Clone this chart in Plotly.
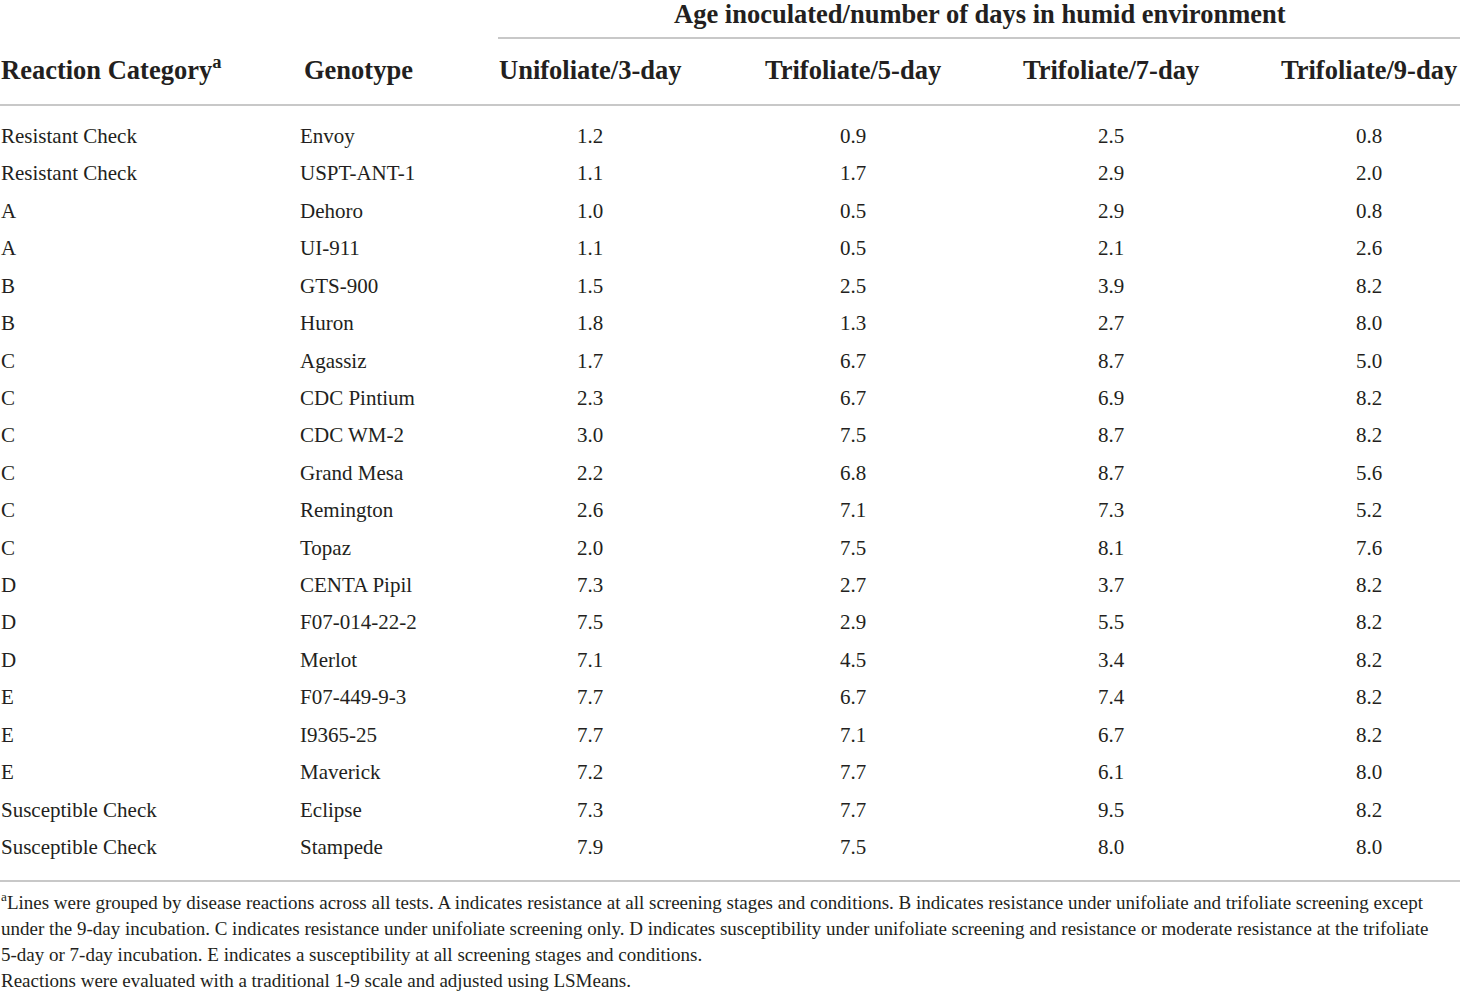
import plotly.graph_objects as go

# table data
categories = ["Resistant Check", "Resistant Check", "A", "A", "B", "B",
              "C", "C", "C", "C", "C", "C", "D", "D", "D", "E", "E", "E",
              "Susceptible Check", "Susceptible Check"]
genotypes = ["Envoy", "USPT-ANT-1", "Dehoro", "UI-911", "GTS-900", "Huron",
             "Agassiz", "CDC Pintium", "CDC WM-2", "Grand Mesa", "Remington",
             "Topaz", "CENTA Pipil", "F07-014-22-2", "Merlot", "F07-449-9-3",
             "I9365-25", "Maverick", "Eclipse", "Stampede"]
uni_3day = [1.2, 1.1, 1.0, 1.1, 1.5, 1.8, 1.7, 2.3, 3.0, 2.2, 2.6, 2.0,
            7.3, 7.5, 7.1, 7.7, 7.7, 7.2, 7.3, 7.9]
tri_5day = [0.9, 1.7, 0.5, 0.5, 2.5, 1.3, 6.7, 6.7, 7.5, 6.8, 7.1, 7.5,
            2.7, 2.9, 4.5, 6.7, 7.1, 7.7, 7.7, 7.5]
tri_7day = [2.5, 2.9, 2.9, 2.1, 3.9, 2.7, 8.7, 6.9, 8.7, 8.7, 7.3, 8.1,
            3.7, 5.5, 3.4, 7.4, 6.7, 6.1, 9.5, 8.0]
tri_9day = [0.8, 2.0, 0.8, 2.6, 8.2, 8.0, 5.0, 8.2, 8.2, 5.6, 5.2, 7.6,
            8.2, 8.2, 8.2, 8.2, 8.2, 8.0, 8.2, 8.0]

span_header = "Age inoculated/number of days in humid environment"
col_headers = ["Reaction Category<sup>a</sup>", "Genotype", "Unifoliate/3-day",
               "Trifoliate/5-day", "Trifoliate/7-day", "Trifoliate/9-day"]
footnotes = [
    "<sup>a</sup>Lines were grouped by disease reactions across all tests. A indicates resistance at all screening stages and conditions. B indicates resistance under unifoliate and trifoliate screening except",
    "under the 9-day incubation. C indicates resistance under unifoliate screening only. D indicates susceptibility under unifoliate screening and resistance or moderate resistance at the trifoliate",
    "5-day or 7-day incubation. E indicates a susceptibility at all screening stages and conditions.",
    "Reactions were evaluated with a traditional 1-9 scale and adjusted using LSMeans.",
]

FONT = "Liberation Serif"
INK = "#231f20"
RULE = "#c8c8c8"

W, H = 1460, 992
row_y0, row_h = 136, 37.42
num_cols_x = [590, 853, 1111, 1369]

fig = go.Figure()
ann = []


def txt(x, y, s, size=21, bold=False, anchor="left", shift=0):
    if bold:
        s = "<b>" + s + "</b>"
    ann.append(dict(x=x, y=y, text=s, showarrow=False, xanchor=anchor,
                    yanchor="middle", borderpad=0, yshift=shift,
                    font=dict(family=FONT, size=size, color=INK)))


# header
txt(980, 14, span_header, size=26.5, bold=True, anchor="center")
txt(0, 70, col_headers[0], size=26.5, bold=True, shift=2)
txt(358, 70, col_headers[1], size=26.5, bold=True, anchor="center")
for cx, h in zip(num_cols_x, col_headers[2:]):
    txt(cx, 70, h, size=26.5, bold=True, anchor="center")

# body
for i in range(len(genotypes)):
    y = row_y0 + i * row_h
    txt(0, y, categories[i])
    txt(299, y, genotypes[i])
    for cx, col in zip(num_cols_x, [uni_3day, tri_5day, tri_7day, tri_9day]):
        txt(cx, y, f"{col[i]:.1f}", anchor="center")

# footnotes
for k, f in enumerate(footnotes):
    txt(0, 903 + k * 25.7, f, size=19, shift=2 if k == 0 else 0)

shapes = [
    dict(type="line", x0=498, x1=W, y0=38, y1=38, line=dict(color=RULE, width=2)),
    dict(type="line", x0=0, x1=W, y0=105, y1=105, line=dict(color=RULE, width=2)),
    dict(type="line", x0=0, x1=W, y0=881, y1=881, line=dict(color=RULE, width=2)),
]

fig.update_layout(
    width=W, height=H,
    margin=dict(l=0, r=0, t=0, b=0),
    paper_bgcolor="white", plot_bgcolor="white",
    xaxis=dict(range=[0, W], visible=False, fixedrange=True),
    yaxis=dict(range=[H, 0], visible=False, fixedrange=True),
    annotations=ann, shapes=shapes,
    showlegend=False,
)

fig.write_html("out.html", config={"displayModeBar": False},
               post_script="document.body.style.margin='0';")
